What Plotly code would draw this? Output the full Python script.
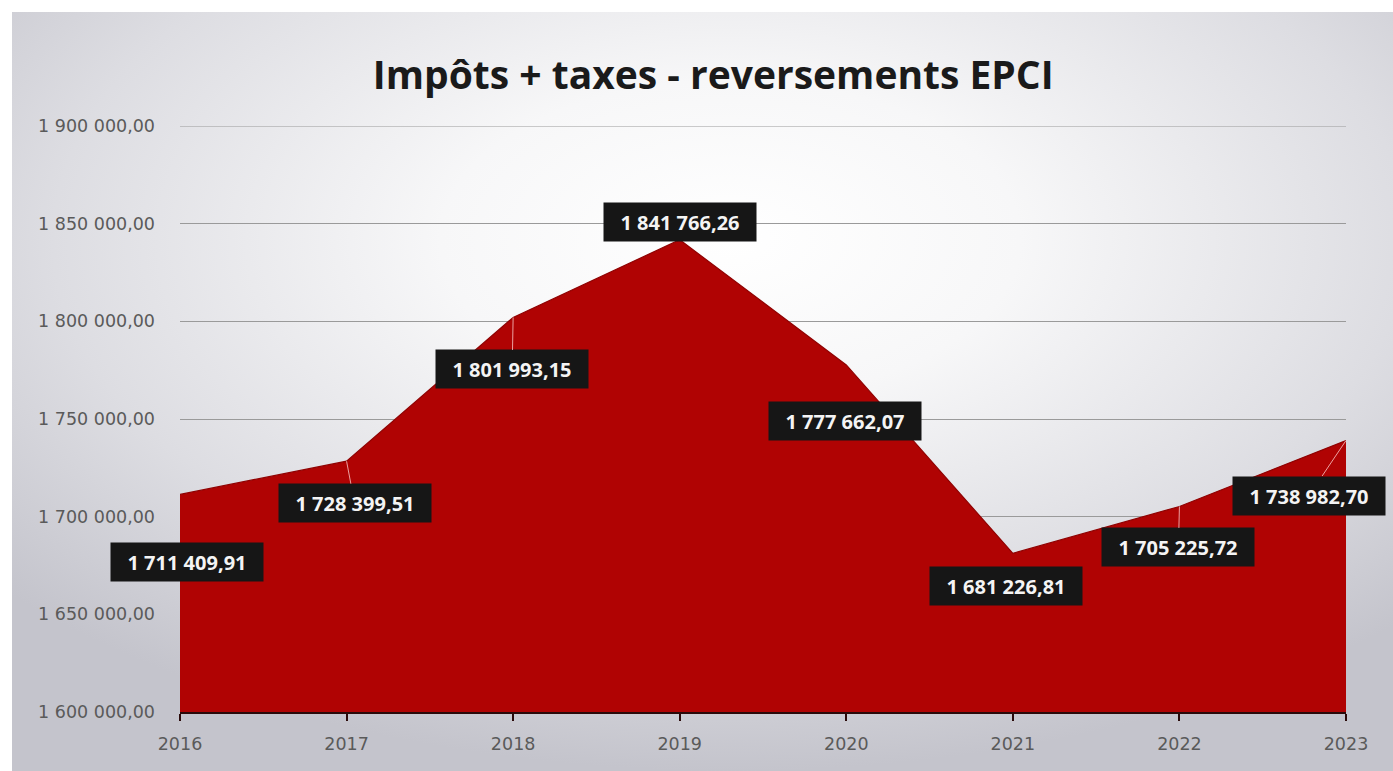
import base64
import plotly.graph_objects as go

# Recettes fiscales nettes des reversements à l'EPCI
years = [2016, 2017, 2018, 2019, 2020, 2021, 2022, 2023]
amounts = [1711409.91, 1728399.51, 1801993.15, 1841766.26,
           1777662.07, 1681226.81, 1705225.72, 1738982.70]
labels = ["1 711 409,91", "1 728 399,51", "1 801 993,15", "1 841 766,26",
          "1 777 662,07", "1 681 226,81", "1 705 225,72", "1 738 982,70"]
y_ticks = [1600000, 1650000, 1700000, 1750000, 1800000, 1850000, 1900000]

# label box offsets (pixels, relative to each point) and leader line visibility
label_dx = [7, 8, -1, 0, -1, -7, -1, -37]
label_dy = [68, 42, 52, -18, 56, 33, 41, 55]
leader = [False, True, True, False, True, False, True, True]

W, H = 1393, 771
L, R, T, B = 180, 47, 126, 59
pw, ph = W - L - R, H - T - B

fig = go.Figure()
fig.add_trace(go.Scatter(
    x=years, y=amounts, mode="lines", fill="tozeroy",
    fillcolor="#b00303", line=dict(color="#8f0202", width=1.2),
    hoverinfo="skip", showlegend=False,
))

for x, y, t, dx, dy, ld in zip(years, amounts, labels, label_dx, label_dy, leader):
    fig.add_annotation(
        x=x, y=y, text=t, showarrow=True, ax=dx, ay=dy,
        arrowhead=0, arrowwidth=1,
        arrowcolor="rgba(255,215,215,0.75)" if ld else "rgba(0,0,0,0)",
        bgcolor="#161616", borderpad=6, width=140, height=26,
        font=dict(family="Open Sans", size=20, color="#f4f4f4", weight=700),
    )

# top gridline at the upper bound of the axis
fig.add_shape(type="line", xref="x", yref="y", x0=2016, x1=2023,
              y0=y_ticks[-1], y1=y_ticks[-1],
              line=dict(color="#9a9a9a", width=1), layer="below")

# soft grey vignette behind the whole chart
svg = (
    "<svg xmlns='http://www.w3.org/2000/svg' width='1381' height='759' "
    "preserveAspectRatio='none'><defs><radialGradient id='g' cx='52%' cy='30%' r='70%'>"
    "<stop offset='0' stop-color='#ffffff'/><stop offset='0.3' stop-color='#f7f7f8'/>"
    "<stop offset='0.7' stop-color='#dddde2'/><stop offset='1' stop-color='#c4c4cc'/>"
    "</radialGradient></defs><rect width='100%' height='100%' fill='url(#g)'/></svg>"
)
bg_uri = "data:image/svg+xml;base64," + base64.b64encode(svg.encode()).decode()
bx0, by0 = 12, 12
fig.add_layout_image(
    source=bg_uri, xref="paper", yref="paper",
    x=(bx0 - L) / pw, y=(H - B - by0) / ph,
    sizex=(W - bx0) / pw, sizey=(H - by0) / ph,
    xanchor="left", yanchor="top", sizing="stretch", layer="below",
)

tick_font = dict(family="DejaVu Sans", size=17.5, color="#5a5a5a")

fig.update_layout(
    width=W, height=H,
    margin=dict(l=L, r=R, t=T, b=B),
    paper_bgcolor="#ffffff", plot_bgcolor="rgba(0,0,0,0)",
    separators=", ",
    title=dict(
        text="Impôts + taxes - reversements EPCI",
        x=0.512, xanchor="center", y=1 - 75 / H, yanchor="middle",
        font=dict(family="Open Sans", size=39, color="#1a1a1a", weight=700),
    ),
    xaxis=dict(
        range=[2016, 2023], tickvals=years, showgrid=False, zeroline=False,
        showline=True, linecolor="#2a0a0a", linewidth=2,
        ticks="outside", ticklen=7, tickwidth=2, tickcolor="#2a0a0a",
        tickfont=tick_font, ticklabelstandoff=8,
    ),
    yaxis=dict(
        range=[1600000, 1900000], tickvals=y_ticks, tickformat=",.2f",
        showgrid=True, gridcolor="#9a9a9a", gridwidth=1, zeroline=False,
        showline=False, ticks="",
        tickfont=tick_font, ticklabelstandoff=24,
    ),
)

fig.write_html("out.html")
